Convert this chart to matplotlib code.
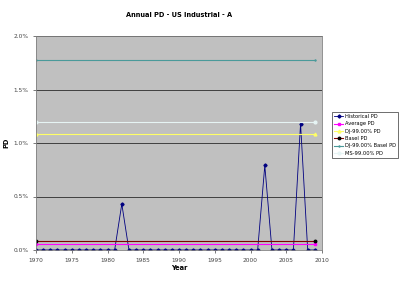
import numpy as np
import matplotlib.pyplot as plt
from matplotlib.ticker import PercentFormatter

years = np.arange(1970, 2010)
hist_pd = np.zeros(len(years))
hist_pd[years == 1982] = 0.0043
hist_pd[years == 2002] = 0.0079
hist_pd[years == 2007] = 0.0118

ends = [1970, 2009]
avg_pd = [0.0006, 0.0006]
dj_pd = [0.0108, 0.0108]
basel_pd = [0.0008, 0.0008]
dj_basel_pd = [0.0178, 0.0178]
ms_pd = [0.0120, 0.0120]

fig = plt.figure(figsize=(4.10, 2.81), dpi=100)
ax = fig.add_axes([36/410, 1 - 250/281, 286/410, 214/281])
ax.set_facecolor('#c0c0c0')

for y in [0.005, 0.010, 0.015, 0.020]:
    ax.axhline(y, color='#404040', lw=0.7, zorder=0)

ax.plot(years, hist_pd, color='#000080', lw=0.6, marker='D', ms=1.6, label='Historical PD')
ax.plot(ends, avg_pd, color='#ff00ff', lw=0.8, marker='s', ms=2, label='Average PD')
ax.plot(ends, dj_pd, color='#ffff66', lw=0.8, marker='^', ms=2, label='DJ-99.00% PD')
ax.plot(ends, basel_pd, color='#800000', lw=0.8, marker='o', ms=1.8, mfc='black', mec='black', label='Basel PD')
ax.plot(ends, dj_basel_pd, color='#4a9a9a', lw=0.8, marker='+', ms=2, label='DJ-99.00% Basel PD')
ax.plot(ends, ms_pd, color='#e6f4f4', lw=0.8, marker='o', ms=2, label='MS-99.00% PD')

ax.set_xlim(1970, 2010)
ax.set_ylim(0, 0.02)
ax.set_xticks(range(1970, 2011, 5))
ax.set_yticks([0, 0.005, 0.010, 0.015, 0.020])
ax.yaxis.set_major_formatter(PercentFormatter(1.0, decimals=1))
ax.tick_params(labelsize=4.2, length=2, width=0.5, colors='#444444')
for s in ax.spines.values():
    s.set_color('#808080')
    s.set_linewidth(0.6)

ax.set_xlabel('Year', fontsize=4.8, fontweight='bold', labelpad=2)
ax.set_ylabel('PD', fontsize=4.8, fontweight='bold', labelpad=3)
fig.text(0.5 * (36 + 322) / 410, 1 - 15/281, 'Annual PD - US Industrial - A',
         ha='center', va='center', fontsize=4.8, fontweight='bold')

leg = ax.legend(loc='upper left', bbox_to_anchor=(332/410, 1 - 112/281),
                bbox_transform=fig.transFigure, fontsize=3.7, frameon=True,
                fancybox=False, edgecolor='black', handlelength=1.8,
                borderpad=0.4, labelspacing=0.45, handletextpad=0.3,
                borderaxespad=0)
leg.get_frame().set_linewidth(0.5)

fig.savefig('out.png', dpi=100)
